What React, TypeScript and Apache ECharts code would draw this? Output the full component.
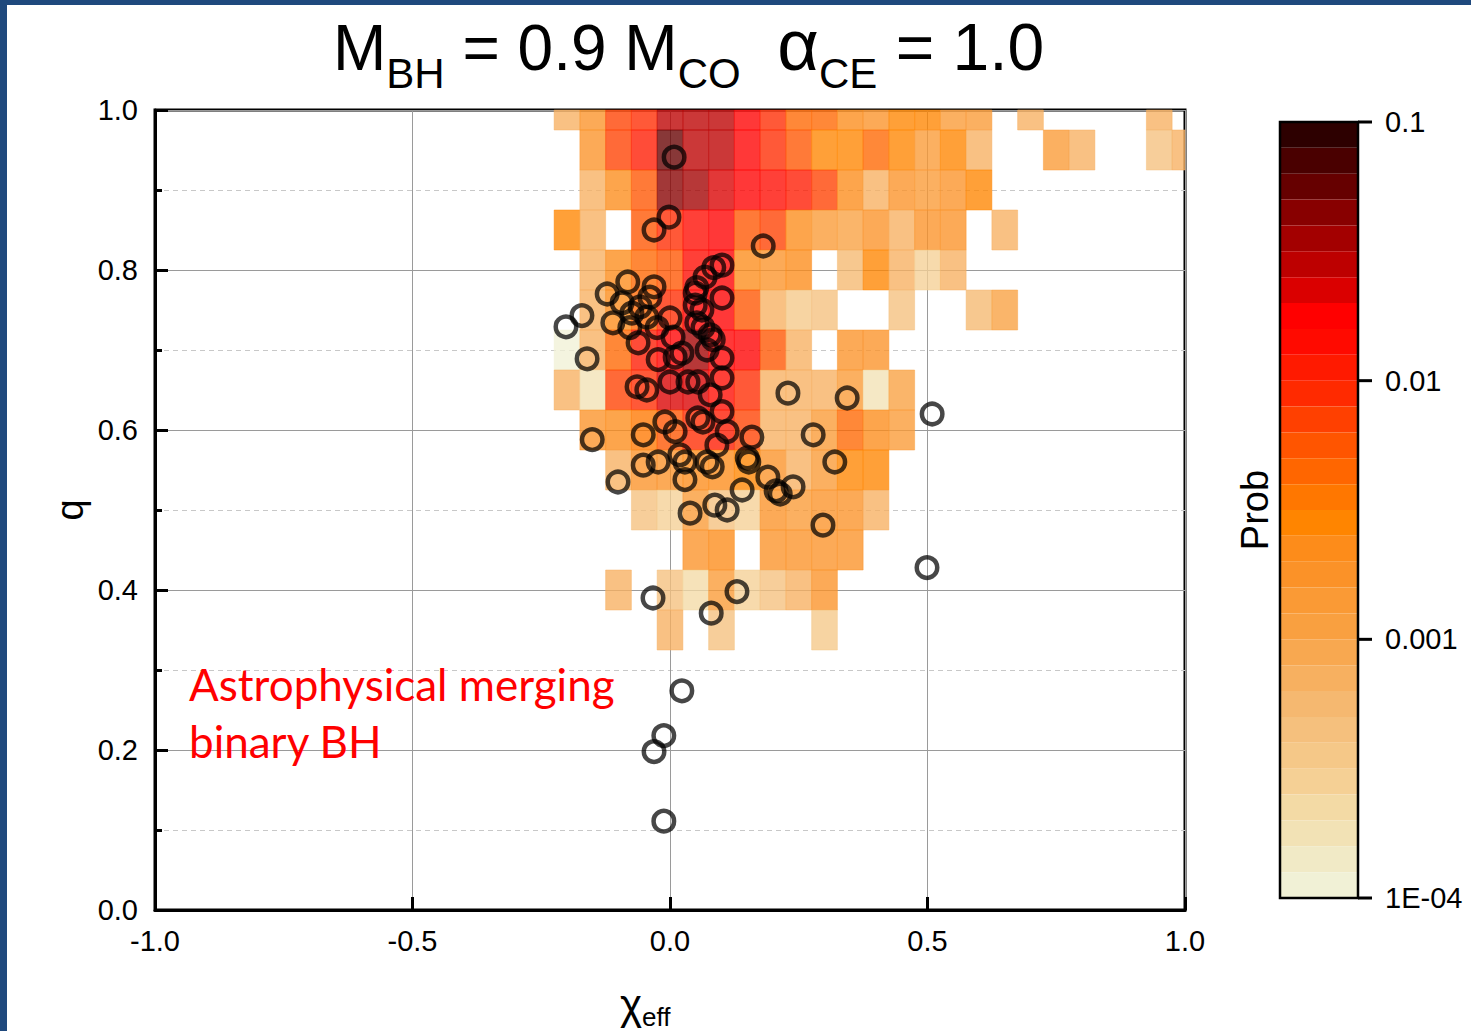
import React, { useEffect, useRef } from "react";
import * as echarts from "echarts";

// ---------------- data ----------------
// bin centres of the probability map
const CHI_BINS = [-0.2, -0.15, -0.1, -0.05, 0.0, 0.05, 0.1, 0.15, 0.2, 0.25, 0.3, 0.35, 0.4, 0.45, 0.5, 0.55, 0.6, 0.65, 0.7, 0.75, 0.8, 0.85, 0.9, 0.95, 1.0];
const Q_BINS = [1.0, 0.95, 0.9, 0.85, 0.8, 0.75, 0.7, 0.65, 0.6, 0.55, 0.5, 0.45, 0.4, 0.35];

// probability per chi bin (0 = empty), one array per q row
const PROB_Q100 = [7.1e-4, 1.8e-3, 7.1e-3, 8.9e-3, 0.028, 0.028, 0.028, 0.018, 8.9e-3, 4.5e-3, 4.5e-3, 2.2e-3, 1.8e-3, 2.8e-3, 2.8e-3, 1.4e-3, 1.4e-3, 0, 7.1e-4, 0, 0, 0, 0, 7.1e-4, 0];
const PROB_Q095 = [0, 1.8e-3, 7.1e-3, 0.011, 0.056, 0.028, 0.028, 0.018, 8.9e-3, 5.6e-3, 2.8e-3, 2.8e-3, 4.5e-3, 2.8e-3, 1.4e-3, 2.8e-3, 7.1e-4, 0, 0, 1.4e-3, 7.1e-4, 0, 0, 4.5e-4, 7.1e-4];
const PROB_Q090 = [0, 7.1e-4, 2.2e-3, 5.6e-3, 0.045, 0.035, 0.022, 0.018, 0.014, 0.011, 7.1e-3, 2.2e-3, 7.1e-4, 1.8e-3, 1.4e-3, 1.8e-3, 2.8e-3];
const PROB_Q085 = [2.8e-3, 7.1e-4, 0, 5.6e-3, 8.9e-3, 0.014, 0.018, 5.6e-3, 7.1e-3, 2.2e-3, 1.4e-3, 1.1e-3, 1.8e-3, 7.1e-4, 1.8e-3, 1.8e-3, 0, 7.1e-4];
const PROB_Q080 = [0, 7.1e-4, 2.2e-3, 4.5e-3, 5.6e-3, 0.014, 0.018, 2.2e-3, 1.8e-3, 2.2e-3, 0, 5.6e-4, 2.8e-3, 7.1e-4, 2.8e-4, 7.1e-4];
const PROB_Q075 = [0, 7.1e-4, 2.2e-3, 4.5e-3, 8.9e-3, 0.018, 0.018, 5.6e-3, 7.1e-4, 3.5e-4, 4.5e-4, 0, 0, 4.5e-4, 0, 0, 5.6e-4, 1.1e-3];
const PROB_Q070 = [1.1e-4, 7.1e-4, 4.5e-3, 0.011, 0.018, 0.035, 0.018, 0.018, 5.6e-3, 7.1e-4, 0, 1.8e-3, 1.8e-3];
const PROB_Q065 = [7.1e-4, 1.8e-4, 7.1e-3, 8.9e-3, 0.022, 0.022, 0.014, 8.9e-3, 7.1e-4, 7.1e-4, 7.1e-4, 1.4e-3, 1.8e-4, 1.1e-3];
const PROB_Q060 = [0, 1.8e-3, 2.2e-3, 3.5e-3, 5.6e-3, 8.9e-3, 0.011, 7.1e-3, 7.1e-4, 7.1e-4, 1.4e-3, 4.5e-3, 2.2e-3, 1.4e-3];
const PROB_Q055 = [0, 0, 7.1e-4, 1.8e-3, 1.8e-3, 2.2e-3, 2.2e-3, 2.8e-3, 1.8e-3, 7.1e-4, 1.4e-3, 2.8e-3, 2.8e-3];
const PROB_Q050 = [0, 0, 0, 4.5e-4, 2.8e-4, 1.4e-3, 4.5e-4, 2.8e-4, 1.8e-3, 1.4e-3, 1.8e-3, 1.8e-3, 7.1e-4];
const PROB_Q045 = [0, 0, 0, 0, 0, 1.8e-3, 2.2e-3, 0, 1.8e-3, 1.8e-3, 1.8e-3, 1.8e-3];
const PROB_Q040 = [0, 0, 7.1e-4, 0, 4.5e-4, 2.2e-4, 1.4e-3, 2.8e-4, 4.5e-4, 7.1e-4, 1.8e-3];
const PROB_Q035 = [0, 0, 0, 0, 7.1e-4, 0, 4.5e-4, 0, 0, 0, 3.5e-4];
const PROB_ROWS = [PROB_Q100, PROB_Q095, PROB_Q090, PROB_Q085, PROB_Q080, PROB_Q075, PROB_Q070, PROB_Q065, PROB_Q060, PROB_Q055, PROB_Q050, PROB_Q045, PROB_Q040, PROB_Q035];

// observed merging binary BHs
const OBS_CHI = [0.008, -0.002, -0.031, 0.181, 0.085, 0.101, 0.068, 0.052, 0.049, 0.101, 0.049, 0.062, 0.052, 0.064, 0.078, 0.084, 0.072, 0.101, 0.101, 0.078, 0.101, 0.064, 0.054, 0.111, 0.091, 0.159, 0.0, 0.035, 0.054, 0.01, 0.023, -0.023, 0.006, 0.0, -0.025, -0.045, -0.062, -0.078, -0.058, -0.074, -0.093, -0.111, -0.122, -0.082, -0.031, -0.039, -0.202, -0.171, -0.161, -0.064, -0.045, -0.151, -0.052, -0.01, 0.01, -0.052, -0.023, 0.019, 0.029, 0.072, 0.082, 0.15, 0.153, 0.029, -0.101, 0.14, 0.19, 0.206, 0.214, 0.239, 0.087, 0.111, 0.039, 0.297, 0.229, 0.344, 0.278, 0.32, 0.509, 0.499, -0.033, 0.08, 0.13, 0.023, -0.012, -0.031, -0.012];
const OBS_Q = [0.941, 0.866, 0.85, 0.83, 0.803, 0.806, 0.791, 0.778, 0.771, 0.765, 0.756, 0.75, 0.734, 0.728, 0.719, 0.713, 0.7, 0.69, 0.665, 0.644, 0.623, 0.61, 0.615, 0.598, 0.581, 0.591, 0.66, 0.66, 0.66, 0.691, 0.696, 0.688, 0.716, 0.74, 0.728, 0.741, 0.709, 0.728, 0.754, 0.746, 0.759, 0.734, 0.77, 0.785, 0.779, 0.766, 0.729, 0.743, 0.689, 0.654, 0.65, 0.588, 0.594, 0.61, 0.598, 0.556, 0.56, 0.569, 0.56, 0.56, 0.554, 0.565, 0.56, 0.538, 0.535, 0.525, 0.541, 0.524, 0.52, 0.529, 0.506, 0.5, 0.496, 0.481, 0.646, 0.64, 0.594, 0.56, 0.62, 0.428, 0.39, 0.371, 0.398, 0.274, 0.218, 0.198, 0.111];

// colour scale (log10 Prob from -4 to -1, 30 bands, low -> high)
const LOG_MIN = -4;
const LOG_MAX = -1;
const LEVEL_COLORS = [
  "#F1F1D6", "#F1EAC6", "#F2E2B5", "#F3DAA5", "#F5D095", "#F5C888", "#F5C07D", "#F5B870", "#F7B060", "#F8A850",
  "#F9A040", "#FA9A35", "#FB9228", "#FD8C1A", "#FF8500", "#FF7700", "#FF6600", "#FF5500", "#FF4000", "#FF2A00",
  "#FF1A00", "#FF0A00", "#FF0000", "#DA0000", "#BD0000", "#A30000", "#880000", "#660000", "#4A0000", "#2D0000",
];
const CBAR_TICKS = [0.1, 0.01, 0.001, 0.0001];
const CBAR_LABELS = ["0.1", "0.01", "0.001", "1E-04"];

// ---------------- layout / style ----------------
const W = 1471;
const H = 1031;
const GRID = { left: 155, top: 110, width: 1030, height: 800 };
const CB = { left: 1280, top: 122, width: 78, height: 776 };
const HALF_BIN = 0.025;
const FONT = "'Liberation Sans', Arial, Helvetica, sans-serif";
const CENTRAL = 0.3465; // distance (em) from the central baseline down to the alphabetic baseline

type Seg = { t: string; size: number; base: number };
const TITLE_SEGS: Seg[] = [
  { t: "M", size: 64, base: 70 },
  { t: "BH", size: 42, base: 88 },
  { t: " = 0.9 M", size: 64, base: 70 },
  { t: "CO", size: 42, base: 88 },
  { t: "  ", size: 66, base: 70 },
  { t: "α", size: 72, base: 70 },
  { t: "CE", size: 42, base: 88 },
  { t: " = 1.0", size: 66, base: 70 },
];
const XNAME_SEGS: Seg[] = [
  { t: "χ", size: 42, base: 1019 },
  { t: "eff", size: 26, base: 1026 },
];

function layoutSegs(segs: Seg[], x0: number, ctx: CanvasRenderingContext2D | null): any[] {
  const out: any[] = [];
  let x = x0;
  const measure = (s: string, size: number) => {
    if (!ctx) return s.length * size * 0.55;
    ctx.font = `${size}px ${FONT}`;
    return ctx.measureText(s).width;
  };
  for (const s of segs) {
    const lead = s.t.length - s.t.replace(/^\s+/, "").length;
    const trimmed = s.t.trim();
    const leadW = lead ? measure(s.t.slice(0, lead), s.size) : 0;
    if (trimmed) {
      out.push({
        type: "text", z: 100, x: x + leadW, y: s.base - CENTRAL * s.size,
        style: { text: trimmed, fontSize: s.size, fontFamily: FONT, fill: "#000", align: "left", verticalAlign: "middle" },
      });
    }
    x += measure(s.t, s.size);
  }
  return out;
}

export default function App() {
  const ref = useRef<HTMLDivElement>(null);

  useEffect(() => {
    if (!ref.current) return;
    const chart = echarts.init(ref.current, undefined, { renderer: "svg" });
    const ctx = document.createElement("canvas").getContext("2d");

    const heatData: number[][] = [];
    PROB_ROWS.forEach((row, r) => {
      row.forEach((p, c) => {
        if (p > 0) heatData.push([CHI_BINS[c], Q_BINS[r], Math.log10(p)]);
      });
    });
    const obsData = OBS_CHI.map((x, i) => [x, OBS_Q[i]]);

    const nLev = LEVEL_COLORS.length;
    const step = (LOG_MAX - LOG_MIN) / nLev;
    const pieces = LEVEL_COLORS.map((color, i) =>
      i === nLev - 1
        ? { gte: LOG_MIN + i * step, lte: LOG_MAX + 1, color }
        : { gte: LOG_MIN + i * step, lt: LOG_MIN + (i + 1) * step, color }
    );

    const cbY = (v: number) =>
      CB.top + ((LOG_MAX - Math.log10(v)) / (LOG_MAX - LOG_MIN)) * CB.height;

    const graphics: any[] = [
      { type: "rect", z: 100, shape: { x: 0, y: 0, width: W, height: 5 }, style: { fill: "#1F497D" } },
      { type: "rect", z: 100, shape: { x: 0, y: 0, width: 7, height: H }, style: { fill: "#1F497D" } },
      {
        type: "rect", z: 100,
        shape: { x: CB.left, y: CB.top, width: CB.width, height: CB.height },
        style: { fill: "none", stroke: "#000", lineWidth: 2.5 },
      },
      ...layoutSegs(TITLE_SEGS, 333, ctx),
      ...layoutSegs(XNAME_SEGS, 620, ctx),
      {
        type: "text", z: 100, x: 70, y: 510, rotation: Math.PI / 2,
        style: { text: "q", fontSize: 38, fontFamily: FONT, fill: "#000", align: "center", verticalAlign: "middle" },
      },
      {
        type: "text", z: 100, x: 1255, y: 510, rotation: Math.PI / 2,
        style: { text: "Prob", fontSize: 38, fontFamily: FONT, fill: "#000", align: "center", verticalAlign: "middle" },
      },
      {
        type: "text", z: 100, x: 189, y: 655,
        style: {
          text: "Astrophysical merging\nbinary BH",
          fontSize: 44, lineHeight: 57, fontFamily: "Lato, 'Open Sans', sans-serif",
          fill: "#FF0000", align: "left", verticalAlign: "top",
        },
      },
    ];
    CBAR_TICKS.forEach((v, i) => {
      const y = cbY(v);
      graphics.push({
        type: "line", z: 100,
        shape: { x1: CB.left + CB.width, y1: y, x2: CB.left + CB.width + 14, y2: y },
        style: { stroke: "#000", lineWidth: 3 },
      });
      graphics.push({
        type: "text", z: 100, x: CB.left + CB.width + 27, y,
        style: { text: CBAR_LABELS[i], fontSize: 29, fontFamily: FONT, fill: "#000", align: "left", verticalAlign: "middle" },
      });
    });

    const option: any = {
      animation: false,
      backgroundColor: "#fff",
      grid: { ...GRID, show: true, borderColor: "#000", borderWidth: 3, backgroundColor: "transparent" },
      xAxis: {
        type: "value", min: -1, max: 1, interval: 0.5,
        axisLine: { show: true, onZero: false, lineStyle: { color: "#000", width: 3 } },
        axisTick: { show: true, inside: true, length: 13, lineStyle: { color: "#000", width: 3 } },
        axisLabel: {
          fontSize: 29, fontFamily: FONT, color: "#000", margin: 16,
          formatter: (v: number) => v.toFixed(1),
        },
        splitLine: { show: true, lineStyle: { color: "#9a9a9a", width: 1 } },
      },
      yAxis: {
        type: "value", min: 0, max: 1, interval: 0.2,
        axisLine: { show: true, onZero: false, lineStyle: { color: "#000", width: 3 } },
        axisTick: { show: true, inside: true, length: 13, lineStyle: { color: "#000", width: 3 } },
        minorTick: { show: true, splitNumber: 2, length: 7, lineStyle: { color: "#000", width: 3 } },
        axisLabel: {
          fontSize: 29, fontFamily: FONT, color: "#000", margin: 17,
          formatter: (v: number) => v.toFixed(1),
        },
        splitLine: { show: true, lineStyle: { color: "#9a9a9a", width: 1 } },
        minorSplitLine: { show: true, lineStyle: { color: "#c8c8c8", width: 1, type: [5, 4] } },
      },
      visualMap: {
        type: "piecewise",
        dimension: 2,
        seriesIndex: 0,
        pieces,
        orient: "vertical",
        left: CB.left,
        top: CB.top,
        itemWidth: CB.width,
        itemHeight: CB.height / nLev,
        itemGap: 0,
        itemSymbol: "rect",
        showLabel: false,
        padding: 0,
        selectedMode: false,
        hoverLink: false,
      },
      series: [
        {
          type: "custom",
          coordinateSystem: "cartesian2d",
          data: heatData,
          encode: { x: 0, y: 1 },
          silent: true,
          renderItem: (_params: any, api: any) => {
            const x = api.value(0);
            const y = api.value(1);
            const p0 = api.coord([Math.max(x - HALF_BIN, -1), Math.min(y + HALF_BIN, 1)]);
            const p1 = api.coord([Math.min(x + HALF_BIN, 1), Math.max(y - HALF_BIN, 0)]);
            return {
              type: "rect",
              shape: { x: p0[0], y: p0[1], width: p1[0] - p0[0], height: p1[1] - p0[1] },
              style: { fill: api.visual("color"), opacity: 0.78, stroke: api.visual("color"), lineWidth: 0.6 },
            };
          },
        },
        {
          type: "scatter",
          data: obsData,
          symbol: "circle",
          symbolSize: 20.5,
          silent: true,
          z: 5,
          itemStyle: { color: "rgba(0,0,0,0)", borderColor: "rgba(0,0,0,0.9)", borderWidth: 4.5 },
        },
      ],
      graphic: graphics,
    };

    chart.setOption(option);
    return () => chart.dispose();
  }, []);

  return (
    <div
      ref={ref}
      style={{ position: "fixed", left: 0, top: 0, width: W, height: H, background: "#fff" }}
    />
  );
}
